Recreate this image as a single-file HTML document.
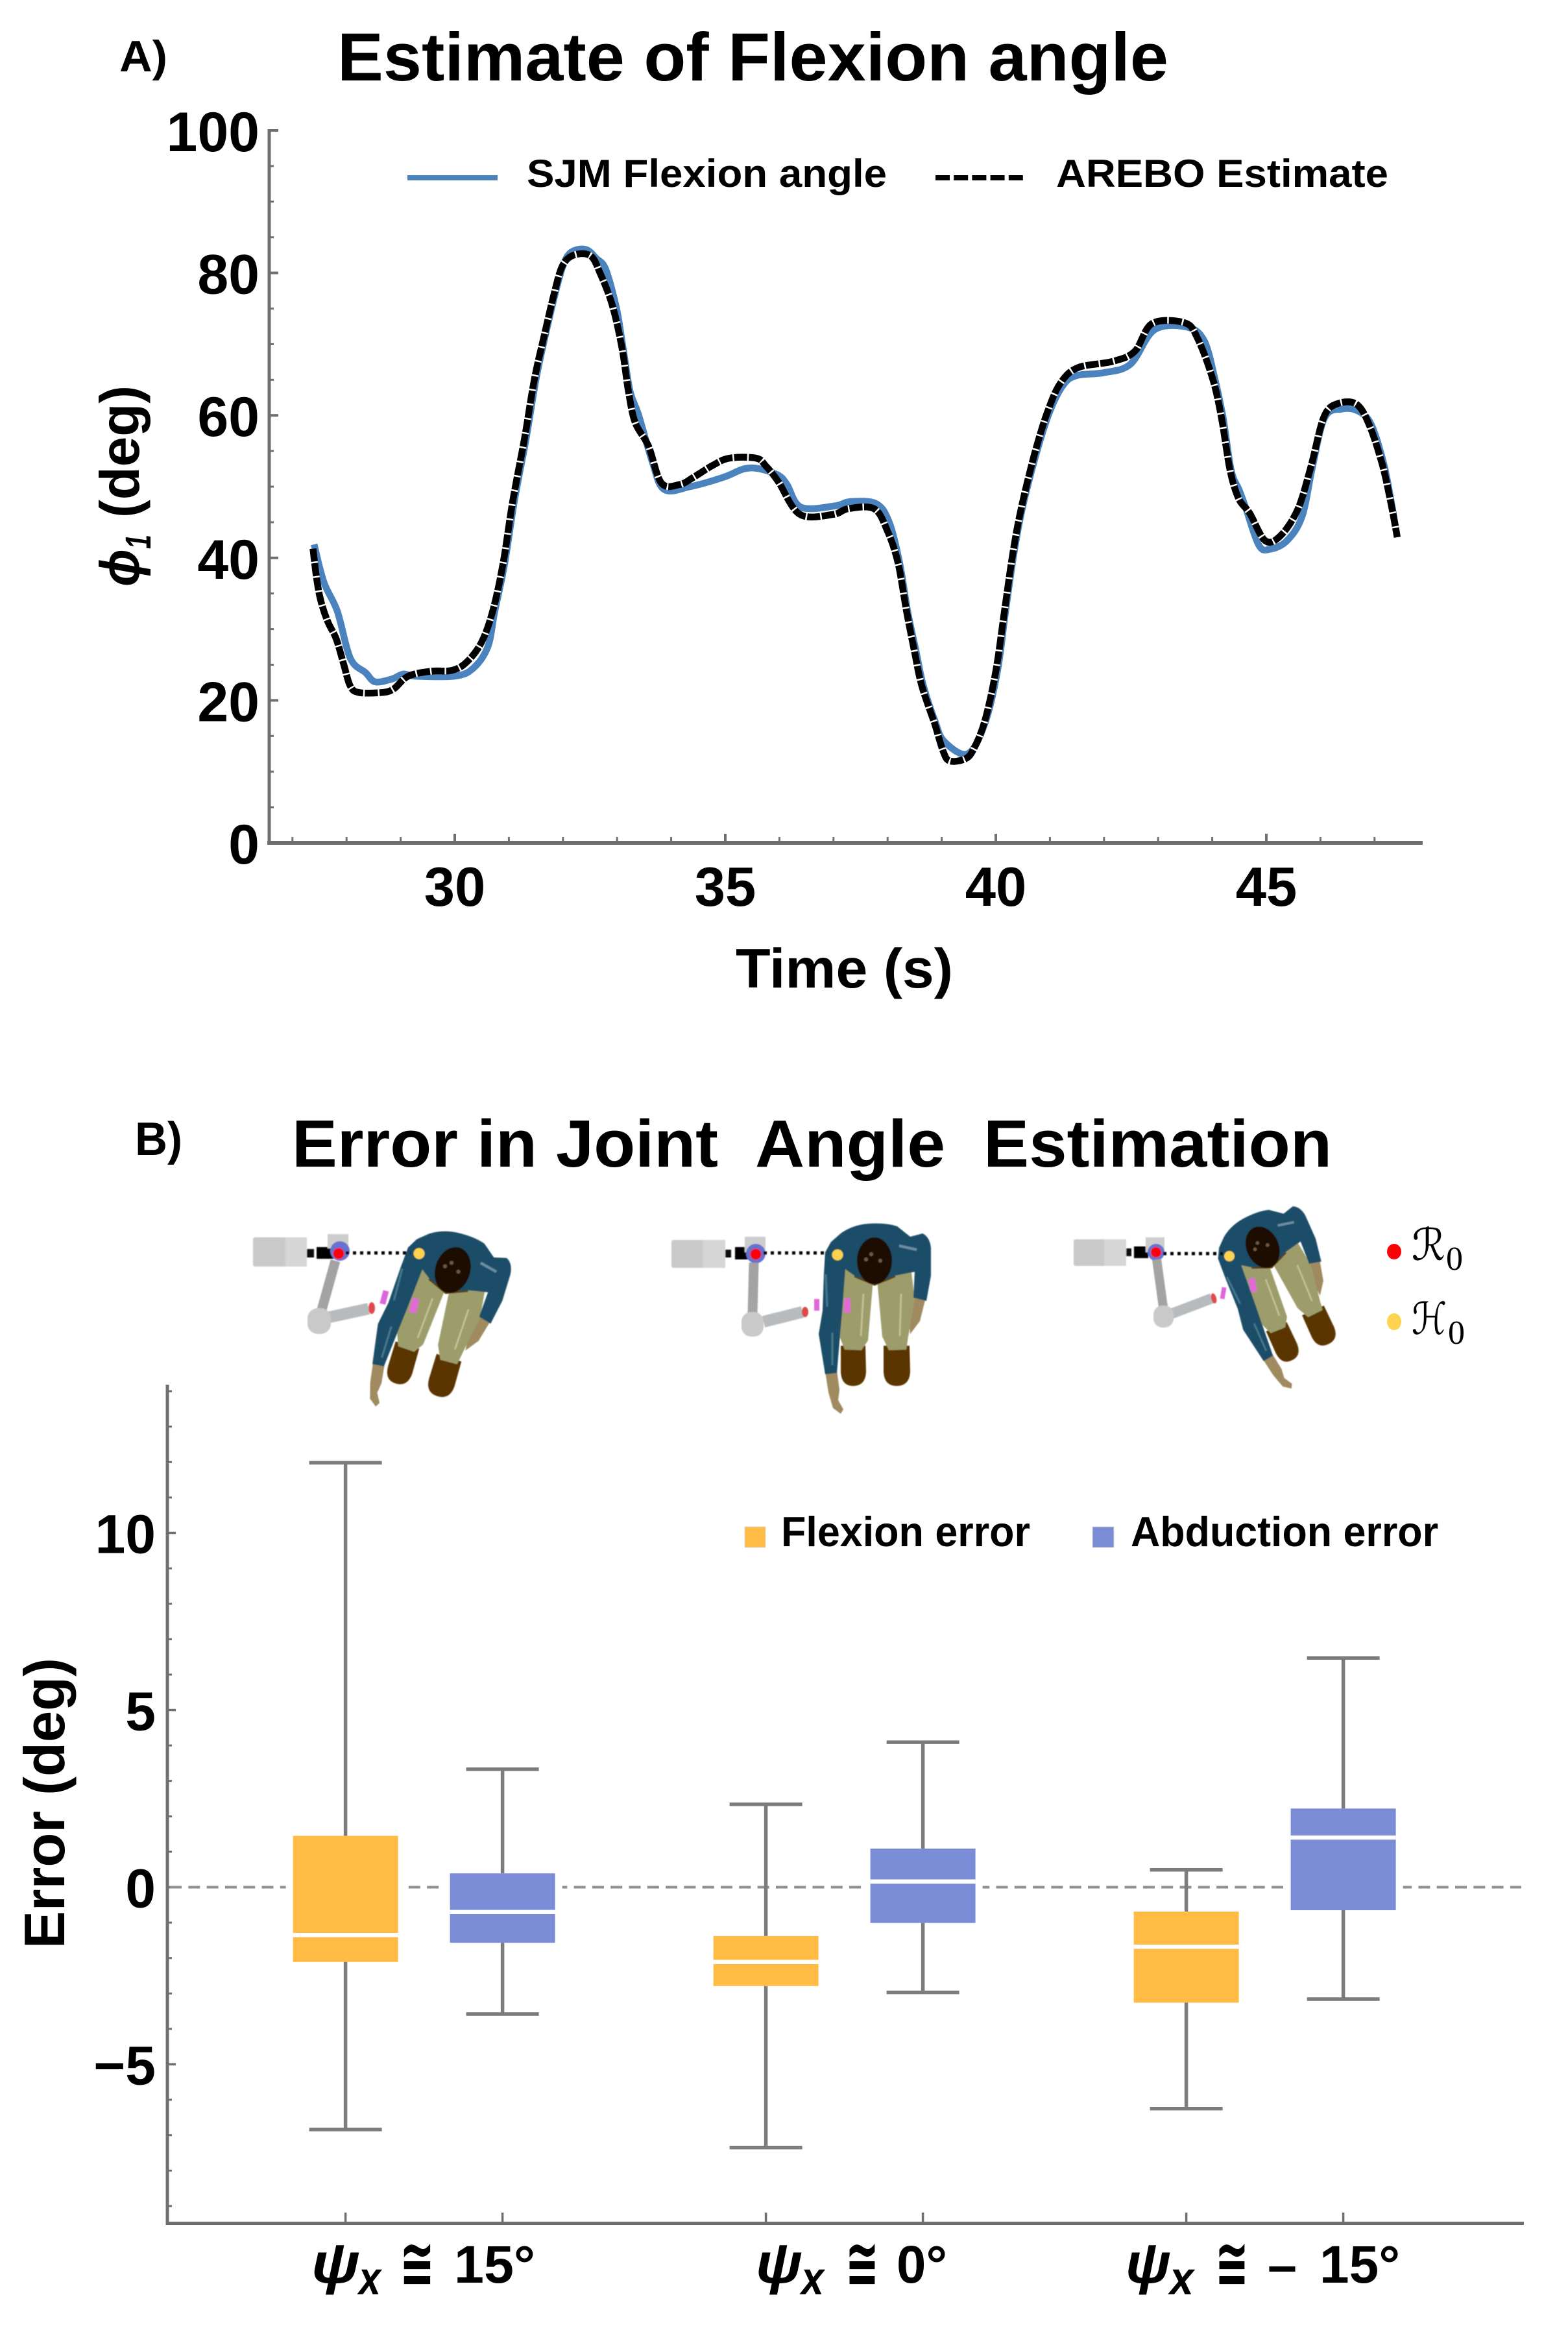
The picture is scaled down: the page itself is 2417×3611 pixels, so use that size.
<!DOCTYPE html>
<html lang="en">
<head>
<meta charset="utf-8">
<title>Flexion angle estimate and joint angle error</title>
<style>
  html, body { margin: 0; padding: 0; background: #fff; }
  svg { display: block; }
  text { font-family: "Liberation Sans", "DejaVu Sans", sans-serif; font-weight: bold; fill: #000; }
  .it { font-style: italic; }
</style>
</head>
<body>
<svg id="fig" xmlns="http://www.w3.org/2000/svg" width="2417" height="3611" viewBox="0 0 2417 3611">
  <rect width="2417" height="3611" fill="#fff"/>
  <defs>
    <filter id="soft" x="-10%" y="-10%" width="120%" height="120%"><feGaussianBlur stdDeviation="0.9"/></filter>
    <g id="person-shape">
      <path fill="#a08a5e" d="M-19,180 L-1,178 L3,208 L1,224 L9,238 L5,245 L-7,236 L-14,212 Z"/>
      <path fill="#a08a5e" d="M117,66 L135,70 L127,102 L112,122 L110,98 Z"/>
      <path fill="#5a3502" d="M5,140 L43,140 L44,180 Q43,202 24,202 Q6,202 5,180 Z"/>
      <path fill="#5a3502" d="M71,140 L111,140 L112,180 Q111,202 91,202 Q72,202 71,180 Z"/>
      <path fill="#9d9d6c" d="M10,10 L54,20 L54,49 L47,132 L37,147 L11,146 L3,126 Z"/>
      <path fill="#9d9d6c" d="M62,20 L112,10 L119,69 L109,126 L106,146 L79,147 L69,126 L62,49 Z"/>
      <path fill="none" stroke="#c4c49a" stroke-width="2.5" d="M40,60 L36,125 M98,60 L96,125"/>
      <path fill="none" stroke="#5c3c10" stroke-width="3" d="M26,33 L57,46 L89,33"/>
      <path fill="#1c4d68" d="M-19,-4 L-10,-20 L6,-34 Q24,-46 46,-48 Q74,-50 92,-44 L112,-28 L131,-33 Q142,-28 144,-11 L144,32 L137,71 L117,66 L119,26 L89,32 L57,44 L26,32 L12,22 L7,89 L4,122 L-1,182 L-19,184 L-29,122 L-23,86 L-21,29 Z"/>
      <path fill="none" stroke="#6d8ea2" stroke-width="4" d="M95,-14 L122,-8"/>
      <path fill="none" stroke="#45788f" stroke-width="3" d="M-8,120 L-8,170 M-18,30 L-16,80"/>
      <ellipse fill="#1e0d00" cx="57" cy="9" rx="27" ry="36"/>
      <circle fill="#6b5a42" cx="52" cy="-1" r="3"/><circle fill="#6b5a42" cx="44" cy="7" r="3"/><circle fill="#6b5a42" cx="66" cy="9" r="3"/>
    </g>
  </defs>

  <!-- PANEL A -->
  <g>
    <text x="184" y="110" font-size="68" textLength="74" lengthAdjust="spacingAndGlyphs">A)</text>
    <text x="520" y="124" font-size="105" textLength="1281" lengthAdjust="spacingAndGlyphs">Estimate of Flexion angle</text>
    <g id="a-axes"></g>
    <g id="a-series"></g>
    <g>
      <line x1="628" y1="274" x2="767" y2="274" stroke="#4a83bd" stroke-width="8"/>
      <text x="812" y="288" font-size="60" textLength="555" lengthAdjust="spacingAndGlyphs">SJM Flexion angle</text>
      <line x1="1442" y1="274" x2="1577" y2="274" stroke="#000" stroke-width="8" stroke-dasharray="22 6.2"/>
      <text x="1628" y="288" font-size="60" textLength="512" lengthAdjust="spacingAndGlyphs">AREBO Estimate</text>
    </g>
    <text x="1134" y="1522" font-size="85" textLength="335" lengthAdjust="spacingAndGlyphs">Time (s)</text>
    <g>
      <text class="it" transform="translate(214,904) rotate(-90)" font-size="85" textLength="58" lengthAdjust="spacingAndGlyphs">ϕ</text>
      <text class="it" transform="translate(232,846) rotate(-90)" font-size="56" textLength="22" lengthAdjust="spacingAndGlyphs">1</text>
      <text transform="translate(214,798) rotate(-90)" font-size="85" textLength="204" lengthAdjust="spacingAndGlyphs">(deg)</text>
    </g>
  </g>

  <!-- PANEL B -->
  <g>
    <text x="208" y="1780" font-size="72" textLength="73" lengthAdjust="spacingAndGlyphs">B)</text>
    <g>
      <text x="450" y="1798" font-size="103" textLength="657" lengthAdjust="spacingAndGlyphs">Error in Joint</text>
      <text x="1164" y="1798" font-size="103" textLength="293" lengthAdjust="spacingAndGlyphs">Angle</text>
      <text x="1516" y="1798" font-size="103" textLength="537" lengthAdjust="spacingAndGlyphs">Estimation</text>
    </g>

    <g filter="url(#soft)">
      <g>
        <rect x="390" y="1907" width="83" height="45" rx="3" fill="#c9c9c9"/>
        <rect x="440" y="1907" width="33" height="45" fill="#d6d6d6"/>
        <rect x="473" y="1925" width="11" height="13" fill="#111"/>
        <rect x="488" y="1922" width="26" height="18" fill="#000"/>
        <rect x="505" y="1902" width="32" height="22" fill="#cdcdcd"/>
        <circle cx="524" cy="1928" r="15" fill="#6a6fcf"/>
        <line x1="517" y1="1943" x2="495" y2="2022" stroke="#a3a3a3" stroke-width="15"/>
        <line x1="508" y1="2030" x2="568" y2="2017" stroke="#b7bbbe" stroke-width="18"/>
        <rect x="474" y="2016" width="36" height="40" rx="16" fill="#c9c9c9"/>
        <ellipse cx="573" cy="2016" rx="5" ry="9" fill="#e04848"/>
        <use href="#person-shape" transform="translate(646,1932) rotate(17)"/>
        <rect x="588" y="1989" width="9" height="21" fill="#dd66d8" transform="rotate(15 592 1999)"/>
        <rect x="633" y="2001" width="11" height="22" fill="#e26bd6" transform="rotate(15 638 2012)"/>
        <line x1="533" y1="1931" x2="633" y2="1931" stroke="#000" stroke-width="5" stroke-dasharray="5 6"/>
        <circle cx="522" cy="1932" r="8.5" fill="#fb0007"/>
        <circle cx="646" cy="1932" r="8.5" fill="#fdd34f"/>
      </g>
      <g>
        <rect x="1035" y="1911" width="83" height="43" rx="3" fill="#c9c9c9"/>
        <rect x="1083" y="1911" width="35" height="43" fill="#d6d6d6"/>
        <rect x="1118" y="1926" width="9" height="12" fill="#111"/>
        <rect x="1133" y="1922" width="24" height="19" fill="#000"/>
        <rect x="1148" y="1906" width="32" height="24" fill="#cdcdcd"/>
        <circle cx="1165" cy="1932" r="15" fill="#6a6fcf"/>
        <line x1="1162" y1="1946" x2="1160" y2="2024" stroke="#a3a3a3" stroke-width="15"/>
        <line x1="1177" y1="2037" x2="1237" y2="2022" stroke="#b7bbbe" stroke-width="18"/>
        <rect x="1143" y="2022" width="34" height="38" rx="15" fill="#c9c9c9"/>
        <ellipse cx="1241" cy="2022" rx="5" ry="8" fill="#e04848"/>
        <use href="#person-shape" transform="translate(1291,1934)"/>
        <rect x="1255" y="2002" width="8" height="18" fill="#dd66d8"/>
        <rect x="1301" y="2001" width="10" height="22" fill="#e26bd6"/>
        <line x1="1177" y1="1931" x2="1277" y2="1931" stroke="#000" stroke-width="5" stroke-dasharray="5 6"/>
        <circle cx="1165" cy="1933" r="8.5" fill="#fb0007"/>
        <circle cx="1291" cy="1934" r="8.5" fill="#fdd34f"/>
      </g>
      <g>
        <rect x="1655" y="1910" width="81" height="41" rx="3" fill="#c9c9c9"/>
        <rect x="1702" y="1910" width="34" height="41" fill="#d6d6d6"/>
        <rect x="1736" y="1924" width="8" height="12" fill="#111"/>
        <rect x="1748" y="1921" width="22" height="18" fill="#000"/>
        <rect x="1766" y="1907" width="29" height="23" fill="#cdcdcd"/>
        <circle cx="1782" cy="1930" r="13" fill="#6a6fcf"/>
        <line x1="1783" y1="1941" x2="1793" y2="2014" stroke="#a3a3a3" stroke-width="14"/>
        <line x1="1805" y1="2025" x2="1868" y2="2001" stroke="#b7bbbe" stroke-width="16"/>
        <rect x="1778" y="2012" width="31" height="34" rx="14" fill="#c9c9c9"/>
        <ellipse cx="1871" cy="2001" rx="4" ry="8" fill="#e04848" transform="rotate(-15 1871 2001)"/>
        <use href="#person-shape" transform="translate(1895,1936) rotate(-24) scale(0.92)"/>
        <rect x="1882" y="1984" width="7" height="18" fill="#dd66d8" transform="rotate(10 1886 1993)"/>
        <rect x="1926" y="1970" width="10" height="21" fill="#e26bd6" transform="rotate(-10 1931 1980)"/>
        <line x1="1793" y1="1932" x2="1885" y2="1932" stroke="#000" stroke-width="5" stroke-dasharray="5 6"/>
        <circle cx="1782" cy="1930" r="8" fill="#fb0007"/>
        <circle cx="1895" cy="1936" r="8" fill="#fdd34f"/>
      </g>
    </g>
    <g>
      <ellipse cx="2149" cy="1929" rx="11" ry="12" fill="#fb0007"/>
      <ellipse cx="2149" cy="2037" rx="11" ry="13" fill="#fdd34f"/>
      <text style="font-family:'DejaVu Serif','DejaVu Sans',serif;font-weight:normal;font-style:italic" x="2176" y="1942" font-size="68" textLength="52" lengthAdjust="spacingAndGlyphs">ℛ</text>
      <text style="font-family:'Liberation Serif',serif;font-weight:normal" x="2229" y="1957" font-size="52">0</text>
      <text style="font-family:'DejaVu Serif','DejaVu Sans',serif;font-weight:normal;font-style:italic" x="2176" y="2056" font-size="68" textLength="54" lengthAdjust="spacingAndGlyphs">ℋ</text>
      <text style="font-family:'Liberation Serif',serif;font-weight:normal" x="2232" y="2071" font-size="52">0</text>
    </g>

    <g id="b-axes"></g>
    <g id="b-marks"></g>

    <g>
      <rect x="1148" y="2353" width="32" height="32" fill="#ffbb44" stroke="#ddd" stroke-width="1"/>
      <text x="1204" y="2383" font-size="65" textLength="384" lengthAdjust="spacingAndGlyphs">Flexion error</text>
      <rect x="1684" y="2353" width="33" height="32" fill="#7a8cd6" stroke="#ddd" stroke-width="1"/>
      <text x="1743" y="2383" font-size="65" textLength="474" lengthAdjust="spacingAndGlyphs">Abduction error</text>
    </g>

    <text transform="translate(99,3003) rotate(-90)" font-size="88" textLength="448" lengthAdjust="spacingAndGlyphs">Error (deg)</text>

    <g>
      <text class="it" x="480" y="3518" font-size="88" textLength="75" lengthAdjust="spacingAndGlyphs">ψ</text>
      <text class="it" x="553" y="3536" font-size="72" textLength="34" lengthAdjust="spacingAndGlyphs">x</text>
      <text x="616" y="3524" font-size="105" textLength="54" lengthAdjust="spacingAndGlyphs">≅</text>
      <text x="700" y="3518" font-size="82" textLength="125" lengthAdjust="spacingAndGlyphs">15°</text>
    </g>
    <g>
      <text class="it" x="1165" y="3518" font-size="88" textLength="72" lengthAdjust="spacingAndGlyphs">ψ</text>
      <text class="it" x="1235" y="3536" font-size="72" textLength="35" lengthAdjust="spacingAndGlyphs">x</text>
      <text x="1303" y="3524" font-size="105" textLength="52" lengthAdjust="spacingAndGlyphs">≅</text>
      <text x="1382" y="3518" font-size="82" textLength="78" lengthAdjust="spacingAndGlyphs">0°</text>
    </g>
    <g>
      <text class="it" x="1735" y="3518" font-size="88" textLength="70" lengthAdjust="spacingAndGlyphs">ψ</text>
      <text class="it" x="1803" y="3536" font-size="72" textLength="37" lengthAdjust="spacingAndGlyphs">x</text>
      <text x="1873" y="3524" font-size="105" textLength="52" lengthAdjust="spacingAndGlyphs">≅</text>
      <text x="1954" y="3519" font-size="82" textLength="45" lengthAdjust="spacingAndGlyphs">–</text>
      <text x="2034" y="3518" font-size="82" textLength="124" lengthAdjust="spacingAndGlyphs">15°</text>
    </g>
  </g>
</svg>

<script>
/* ---------- Panel A data ---------- */
const flexionYTicks = [0, 20, 40, 60, 80, 100];
const flexionYMinorTicks = [5, 10, 15, 25, 30, 35, 45, 50, 55, 65, 70, 75, 85, 90, 95];
const timeTicks = [30, 35, 40, 45];
const timeMinorTicks = [27, 28, 29, 31, 32, 33, 34, 36, 37, 38, 39, 41, 42, 43, 44, 46, 47];

const sjmTimes = [27.40,27.58,27.83,28.07,28.35,28.53,28.84,29.05,29.27,30.0,30.34,30.61,30.74,30.92,31.10,31.32,31.50,31.67,31.86,32.0,32.15,32.42,32.62,32.79,32.99,33.12,33.24,33.40,33.65,33.87,34.35,34.96,35.35,35.63,35.98,36.14,36.40,37.03,37.31,37.79,38.03,38.22,38.37,38.52,38.66,38.88,39.05,39.48,39.80,40.03,40.18,40.34,40.50,40.75,41.0,41.25,41.5,42.0,42.49,42.93,43.53,43.85,44.05,44.2,44.35,44.5,44.62,44.86,45.06,45.38,45.66,45.85,46.08,46.4,46.7,46.94,47.17,47.31,47.42];
const sjmAngles = [41.9,36.6,32.5,25.9,23.9,22.6,23.0,23.7,23.4,23.4,24.5,27.5,32.5,39.1,47.9,56.8,65,71.1,77.2,81,82.9,83.3,82,80.5,75,69,63.4,60,53.5,49.6,50,51.3,52.5,52.5,51.6,50.3,47.1,47.3,47.9,47.6,45,39.4,32.5,27.1,22.1,17,14.2,12.5,16.8,24.1,32.5,40.9,47.3,54.7,60.6,64.3,65.6,66,67.2,72,72.4,70.5,65.1,59.7,52.3,49.5,47,41.8,41.2,42.4,45.8,52.7,59.7,60.9,60.6,58.7,53.2,47.8,42.9];

const arebTimes = [27.38,27.44,27.52,27.65,27.81,27.95,28.07,28.23,28.65,28.87,29.14,29.57,29.94,30.21,30.49,30.70,30.89,31.07,31.29,31.47,31.65,31.84,31.99,32.20,32.51,32.69,32.91,33.09,33.21,33.335,33.58,33.82,34.16,34.41,34.77,35.08,35.57,35.75,35.98,36.38,36.99,37.27,37.75,37.99,38.19,38.35,38.49,38.63,38.87,39.03,39.15,39.44,39.60,39.80,40.0,40.16,40.32,40.48,40.72,40.96,41.2,41.52,42.17,42.57,42.89,43.49,43.73,44.01,44.17,44.33,44.49,44.69,44.98,45.26,45.58,45.82,46.06,46.30,46.66,46.90,47.14,47.30,47.42];
const arebAngles = [41.3,37.5,34.1,31.1,28.6,25.0,22.0,21.1,21.1,21.6,23.4,24.1,24.2,25.3,28.1,32.5,39.1,47.9,56.8,65.0,71.1,77.2,81.0,82.5,82.4,79.9,75.5,69.5,63.4,59.0,55.7,50.5,50.3,51.3,53.0,54.0,54.0,52.9,50.7,46.1,46.1,46.9,46.9,43.9,39.4,32.5,27.1,22.1,16.7,12.8,11.5,11.8,13.3,17.2,24.1,32.5,40.9,47.3,54.7,60.6,64.6,66.7,67.6,69.0,72.9,73.0,70.8,65.1,59.7,52.3,48.3,46.3,42.4,43.1,46.8,52.7,59.7,61.6,61.6,58.7,53.2,47.8,42.9];

/* ---------- Panel B data ---------- */
const errorYTicks = [-5, 0, 5, 10];
const errorYTickLabels = ["\u22125", "0", "5", "10"];
const errorYMinorTicks = [-9,-8,-7,-6,-4,-3,-2,-1,1,2,3,4,6,7,8,9,11,12,13,14];
const conditions = ["psi-plus-15", "psi-zero", "psi-minus-15"];
const flexionLow    = [-6.84, -7.35, -6.25];
const flexionQ1     = [-2.11, -2.79, -3.26];
const flexionMedian = [-1.35, -2.11, -1.68];
const flexionQ3     = [ 1.45, -1.38, -0.69];
const flexionHigh   = [11.98,  2.34,  0.49];
const abductionLow    = [-3.58, -2.97, -3.16];
const abductionQ1     = [-1.57, -1.01, -0.65];
const abductionMedian = [-0.70,  0.16,  1.40];
const abductionQ3     = [ 0.39,  1.09,  2.22];
const abductionHigh   = [ 3.33,  4.09,  6.47];

/* ---------- Axis functions ---------- */
const xA = t => 701 + 83.4 * (t - 30);
const yA = v => 1299 - 10.98 * v;
const yB = v => 2908.5 - 54.6 * v;
const xB = (condition, seriesIndex) => 532.6 + 648 * condition + 242 * seriesIndex;

const NS = "http://www.w3.org/2000/svg";
function mk(tag, attrs, parent) {
  const el = document.createElementNS(NS, tag);
  for (const k in attrs) el.setAttribute(k, attrs[k]);
  parent.appendChild(el);
  return el;
}
function smoothPath(xs, ys) {
  const pts = xs.map((x, i) => [x, ys[i]]);
  let d = "M" + pts[0][0].toFixed(1) + "," + pts[0][1].toFixed(1);
  for (let i = 0; i < pts.length - 1; i++) {
    const p0 = pts[Math.max(0, i - 1)], p1 = pts[i], p2 = pts[i + 1], p3 = pts[Math.min(pts.length - 1, i + 2)];
    const c1x = p1[0] + (p2[0] - p0[0]) / 6, c1y = p1[1] + (p2[1] - p0[1]) / 6;
    const c2x = p2[0] - (p3[0] - p1[0]) / 6, c2y = p2[1] - (p3[1] - p1[1]) / 6;
    d += "C" + c1x.toFixed(1) + "," + c1y.toFixed(1) + " " + c2x.toFixed(1) + "," + c2y.toFixed(1) + " " + p2[0].toFixed(1) + "," + p2[1].toFixed(1);
  }
  return d;
}

const AX = "#6f6f6f";

/* ---------- Panel A axes ---------- */
const aAxes = document.getElementById("a-axes");
const aYAxis = mk("line", {x1: 415, x2: 415, y1: yA(100) - 2, y2: yA(0) + 3, stroke: AX, "stroke-width": 5}, aAxes);


const aXAxis = mk("line", {x1: 412, x2: 2193, y1: yA(0), y2: yA(0), stroke: AX, "stroke-width": 6}, aAxes);



flexionYTicks.forEach(v => {
  const tick = mk("line", {x1: 415, x2: 429, y1: yA(v), y2: yA(v), stroke: AX, "stroke-width": 4}, aAxes);
  
  
  const lab = mk("text", {x: 400, y: yA(v) + 32, "text-anchor": "end", "font-size": 86}, aAxes);
  lab.textContent = String(v);
  
  
});
flexionYMinorTicks.forEach(v => {
  const tick = mk("line", {x1: 415, x2: 422, y1: yA(v), y2: yA(v), stroke: AX, "stroke-width": 3}, aAxes);
  
  
});
timeTicks.forEach(t => {
  const tick = mk("line", {x1: xA(t), x2: xA(t), y1: yA(0), y2: yA(0) - 14, stroke: AX, "stroke-width": 4}, aAxes);
  
  
  const lab = mk("text", {x: xA(t), y: 1396, "text-anchor": "middle", "font-size": 85}, aAxes);
  lab.textContent = String(t);
  
  
});
timeMinorTicks.forEach(t => {
  const tick = mk("line", {x1: xA(t), x2: xA(t), y1: yA(0), y2: yA(0) - 9, stroke: AX, "stroke-width": 3}, aAxes);
  
  
});

/* ---------- Panel A series ---------- */
const aSeries = document.getElementById("a-series");
const sjmLine = mk("path", {d: smoothPath(sjmTimes.map(xA), sjmAngles.map(yA)), fill: "none", stroke: "#4a83bd", "stroke-width": 10.5, "stroke-linejoin": "round"}, aSeries);


const arebD = smoothPath(arebTimes.map(xA), arebAngles.map(yA));
const arebHalo = mk("path", {d: arebD, fill: "none", stroke: "#fff", "stroke-width": 10, "stroke-linejoin": "round"}, aSeries);


const arebLine = mk("path", {d: arebD, fill: "none", stroke: "#000", "stroke-width": 10.5, "stroke-dasharray": "20 2.5", "stroke-linejoin": "round"}, aSeries);



/* ---------- Panel B axes ---------- */
const bAxes = document.getElementById("b-axes");
const bYAxis = mk("line", {x1: 258, x2: 258, y1: 2134, y2: 3429, stroke: AX, "stroke-width": 5}, bAxes);


const bXAxis = mk("line", {x1: 256, x2: 2349, y1: 3426.5, y2: 3426.5, stroke: AX, "stroke-width": 5}, bAxes);



errorYTicks.forEach((v, i) => {
  const tick = mk("line", {x1: 258, x2: 271, y1: yB(v), y2: yB(v), stroke: AX, "stroke-width": 3.5}, bAxes);
  
  
  const lab = mk("text", {x: 240, y: yB(v) + 31, "text-anchor": "end", "font-size": 84}, bAxes);
  lab.textContent = errorYTickLabels[i];
  
  
});
errorYMinorTicks.forEach(v => {
  const tick = mk("line", {x1: 258, x2: 265, y1: yB(v), y2: yB(v), stroke: AX, "stroke-width": 3}, bAxes);
  
  
});
const zeroLine = mk("line", {x1: 262, x2: 2345, y1: yB(0), y2: yB(0), stroke: "#8f8f8f", "stroke-width": 4, "stroke-dasharray": "18 10.3"}, bAxes);



/* ---------- Panel B boxes ---------- */
const bMarks = document.getElementById("b-marks");
const seriesDefs = [
  {key: "flexion", color: "#ffbb44", low: flexionLow, q1: flexionQ1, med: flexionMedian, q3: flexionQ3, high: flexionHigh},
  {key: "abduction", color: "#7a8cd6", low: abductionLow, q1: abductionQ1, med: abductionMedian, q3: abductionQ3, high: abductionHigh}
];
const BOX_HALF = 81, CAP_HALF = 56, WCOL = "#7c7c7c";
conditions.forEach((cond, c) => {
  seriesDefs.forEach((s, j) => {
    const cx = xB(c, j);
    const tick = mk("line", {x1: cx, x2: cx, y1: 3426, y2: 3410, stroke: AX, "stroke-width": 3.5}, bAxes);
    
    

    const group = mk("g", {}, bMarks);
    
    

    const whisker = mk("line", {x1: cx, x2: cx, y1: yB(s.high[c]), y2: yB(s.low[c]), stroke: WCOL, "stroke-width": 5.5}, group);
    
    
    const capHigh = mk("line", {x1: cx - CAP_HALF, x2: cx + CAP_HALF, y1: yB(s.high[c]), y2: yB(s.high[c]), stroke: WCOL, "stroke-width": 5.5}, group);
    
    
    const capLow = mk("line", {x1: cx - CAP_HALF, x2: cx + CAP_HALF, y1: yB(s.low[c]), y2: yB(s.low[c]), stroke: WCOL, "stroke-width": 5.5}, group);
    
    

    const halo = mk("rect", {x: cx - BOX_HALF - 11, width: 2 * BOX_HALF + 22, y: yB(s.q3[c]), height: yB(s.q1[c]) - yB(s.q3[c]), fill: "#fff"}, group);
    
    
    const box = mk("rect", {x: cx - BOX_HALF, width: 2 * BOX_HALF, y: yB(s.q3[c]), height: yB(s.q1[c]) - yB(s.q3[c]), fill: s.color}, group);
    
    
    const median = mk("line", {x1: cx - BOX_HALF, x2: cx + BOX_HALF, y1: yB(s.med[c]), y2: yB(s.med[c]), stroke: "#fff", "stroke-width": 6.5}, group);
    
    
  });
});
</script>
</body>
</html>
